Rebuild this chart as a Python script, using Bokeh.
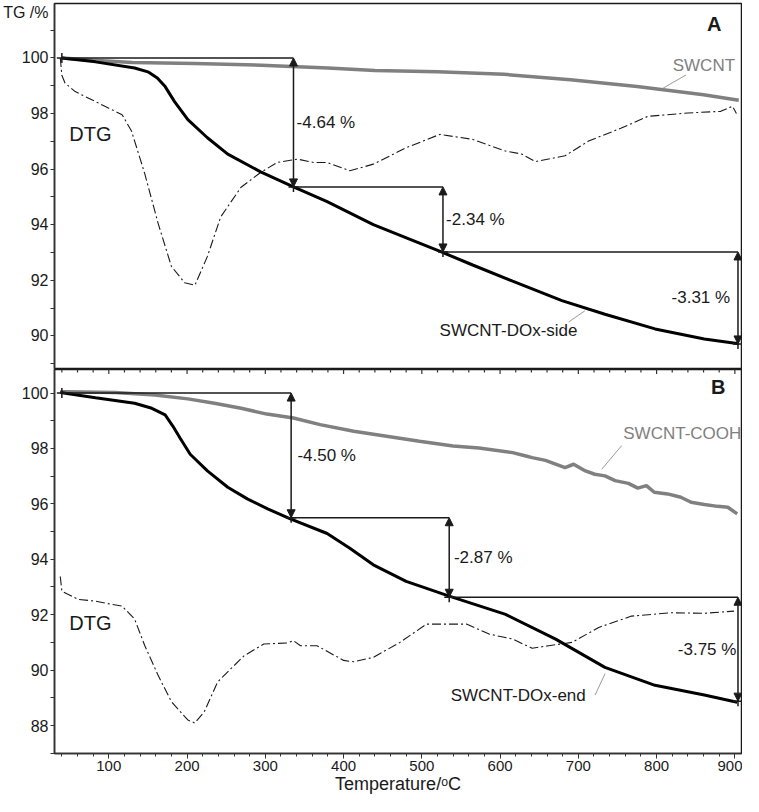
from bokeh.plotting import figure
from bokeh.layouts import column
from bokeh.models import (Range1d, SingleIntervalTicker, FixedTicker, Arrow,
                          NormalHead, Label, ColumnDataSource)
from bokeh.embed import file_html
from bokeh.resources import INLINE
import math

# ---------------- data ----------------
# Panel A
swcnt_T = [40, 80, 130, 210, 295, 380, 440, 520, 605, 690, 775, 860, 905]
swcnt_TG = [100.0, 99.92, 99.84, 99.80, 99.74, 99.64, 99.55, 99.50, 99.41, 99.22, 98.97, 98.68, 98.48]

side_T = [40, 83, 133, 150, 162, 172, 184, 201, 226, 252, 294, 336, 379, 438, 489, 525, 565,
          616, 679, 734, 798, 861, 905]
side_TG = [100.0, 99.86, 99.64, 99.5, 99.28, 98.97, 98.43, 97.78, 97.13, 96.54, 95.9, 95.36,
           94.83, 94.0, 93.43, 93.02, 92.55, 91.97, 91.27, 90.78, 90.25, 89.89, 89.72]

dtgA_T = [38, 40, 44, 57, 83, 95, 117, 129, 146, 163, 180, 197, 210, 226, 243, 269, 294, 315, 341,
          362, 379, 408, 438, 480, 523, 565, 607, 628, 645, 683, 713, 755, 789, 840, 882, 897, 902]
dtgA = [100.0, 99.38, 99.1, 98.79, 98.43, 98.26, 97.96, 97.37, 95.83, 94.05, 92.5, 91.91, 91.82,
        92.86, 94.28, 95.35, 95.88, 96.24, 96.36, 96.24, 96.24, 95.94, 96.18, 96.77, 97.25, 97.07,
        96.65, 96.54, 96.27, 96.48, 97.01, 97.48, 97.9, 98.02, 98.08, 98.26, 98.0]

stepA_T = [40, 336, 527, 904]
stepA_TG = [100.0, 95.36, 93.02, 89.71]
stepA_txt = ["-4.64 %", "-2.34 %", "-3.31 %"]

# Panel B
cooh_T = [38, 44.5, 108, 159, 201, 235, 269, 302, 336, 370, 413, 455, 497, 540, 573, 616, 633, 641,
          658, 683, 694, 709, 721, 734, 747, 764, 776, 787, 797, 814, 831, 844, 861, 878, 891, 903]
cooh_TG = [100.05, 100.05, 100.02, 99.93, 99.79, 99.63, 99.45, 99.24, 99.1, 98.86, 98.62, 98.44,
           98.26, 98.09, 98.02, 97.85, 97.73, 97.67, 97.57, 97.31, 97.43, 97.19, 97.07, 97.01,
           96.84, 96.74, 96.57, 96.66, 96.42, 96.36, 96.24, 96.06, 95.98, 95.91, 95.88, 95.64]

end_T = [38, 83, 133, 155, 172, 182, 191, 204, 226, 252, 277, 303, 332, 379, 408, 438, 480, 535,
         607, 671, 734, 798, 861, 903]
end_TG = [100.02, 99.83, 99.63, 99.45, 99.21, 98.8, 98.38, 97.79, 97.19, 96.6, 96.18, 95.82,
          95.46, 94.93, 94.4, 93.8, 93.2, 92.67, 92.01, 91.12, 90.1, 89.45, 89.1, 88.84]

dtgB_T = [38, 40, 61, 83, 104, 117, 133, 146, 163, 180, 201, 210, 222, 239, 256, 273, 298, 328,
          336, 345, 366, 400, 413, 438, 472, 506, 557, 586, 616, 641, 662, 692, 726, 768, 819,
          861, 899]
dtgB = [93.38, 92.85, 92.55, 92.49, 92.37, 92.31, 91.84, 90.88, 89.81, 88.86, 88.2, 88.09, 88.5,
        89.57, 90.05, 90.52, 90.94, 90.98, 91.06, 90.88, 90.88, 90.35, 90.3, 90.46, 91.0, 91.66,
        91.66, 91.3, 91.12, 90.79, 90.88, 91.0, 91.54, 91.95, 92.07, 92.05, 92.13]

stepB_T = [40, 333, 535, 904]
stepB_TG = [100.0, 95.50, 92.63, 88.88]
stepB_txt = ["-4.50 %", "-2.87 %", "-3.75 %"]

x_tick_labels = [100, 200, 300, 400, 500, 600, 700, 800, 900]
yA_tick_labels = [90, 92, 94, 96, 98, 100]
yB_tick_labels = [88, 90, 92, 94, 96, 98, 100]
y_title = "TG /%"
x_title = "Temperature/ᵒC"

# ---------------- styling ----------------
FONT = "Liberation Sans"
GRAY = "#808080"
INK = "#1a1a1a"
AX = "#333333"

xr = Range1d(30.6, 908.5)


def style_y(p, ticks, lo, hi, title_at=None):
    ax = p.yaxis[0]
    major = list(ticks) + ([title_at] if title_at is not None else [])
    ax.ticker = FixedTicker(ticks=major, minor_ticks=list(range(lo, hi + 1)))
    if title_at is not None:
        ax.major_label_overrides = {title_at: y_title}
    ax.major_label_text_font = FONT
    ax.major_label_text_font_size = "16px"
    ax.major_label_text_color = INK
    ax.axis_line_color = AX
    ax.axis_line_width = 1.5
    ax.major_tick_out = 0
    ax.major_tick_in = 0
    ax.minor_tick_line_color = AX
    ax.minor_tick_line_width = 1.2
    ax.minor_tick_out = 4
    ax.minor_tick_in = 0
    ax.major_label_standoff = 2


def base(p):
    p.grid.visible = False
    p.outline_line_color = INK
    p.outline_line_width = 1.5
    p.background_fill_color = "white"
    p.border_fill_color = "white"


def steps(p, T, L, txt, offsets):
    p.segment(x0=T[:-1], y0=L[:-1], x1=T[1:], y1=L[:-1], line_color=INK, line_width=1.5)
    src = ColumnDataSource(dict(xs=T[1:], ys=L[:-1], xe=T[1:], ye=L[1:]))
    p.add_layout(Arrow(source=src, x_start="xs", y_start="ys", x_end="xe", y_end="ye",
                       line_color=INK, line_width=1.5,
                       start=NormalHead(size=8, fill_color=INK, line_color=INK, line_width=1),
                       end=NormalHead(size=8, fill_color=INK, line_color=INK, line_width=1)))
    p.scatter(T, L, marker="cross", size=10, line_color=INK, line_width=1.5)
    for i, t in enumerate(txt):
        dx, align = offsets[i]
        p.add_layout(Label(x=T[i + 1] + dx, y=(L[i] + L[i + 1]) / 2, text=t,
                           text_font=FONT, text_font_size="17px", text_color=INK,
                           text_align=align, text_baseline="middle"))


# ---------------- panel A ----------------
pA = figure(width=742, height=369, x_range=xr, y_range=Range1d(88.79, 101.96),
            output_backend="svg", toolbar_location=None, x_axis_location=None,
            min_border_left=51, min_border_right=1, min_border_top=3, min_border_bottom=0)
base(pA)
style_y(pA, yA_tick_labels, 89, 101, title_at=101.62)

pA.line(dtgA_T, dtgA, line_color=INK, line_width=1.1, line_dash="9 3 2 3")
pA.line(swcnt_T, swcnt_TG, line_color=GRAY, line_width=3.5)
pA.line(side_T, side_TG, line_color="black", line_width=3)
steps(pA, stepA_T, stepA_TG, stepA_txt, [(4, "left"), (4, "left"), (-10, "right")])

pA.segment(x0=[837.7, 687.6], y0=[99.39, 90.5], x1=[808.1, 708.3], y1=[98.91, 90.9],
           line_color="#9a9a9a", line_width=1)
pA.add_layout(Label(x=820.6, y=99.74, text="SWCNT", text_font=FONT, text_font_size="17px",
                    text_color=GRAY, text_baseline="middle"))
pA.add_layout(Label(x=522.7, y=90.19, text="SWCNT-DOx-side", text_font=FONT,
                    text_font_size="17px", text_color=INK, text_baseline="middle"))
pA.add_layout(Label(x=49.6, y=97.25, text="DTG", text_font=FONT, text_font_size="20px",
                    text_color=INK, text_baseline="middle"))
pA.add_layout(Label(x=883, y=101.22, text="A", text_font=FONT, text_font_size="20px",
                    text_font_style="bold", text_color=INK, text_align="right",
                    text_baseline="middle"))

# ---------------- panel B ----------------
pB = figure(width=742, height=427, x_range=xr, y_range=Range1d(86.99, 100.85),
            output_backend="svg", toolbar_location=None,
            min_border_left=51, min_border_right=1, min_border_top=0, min_border_bottom=0)
base(pB)
style_y(pB, yB_tick_labels, 87, 100)

bx = pB.xaxis[0]
bx.ticker = SingleIntervalTicker(interval=x_tick_labels[1] - x_tick_labels[0], num_minor_ticks=5)
bx.major_label_text_font = FONT
bx.major_label_text_font_size = "15px"
bx.major_label_text_color = INK
bx.axis_line_color = AX
bx.axis_line_width = 1.5
bx.major_tick_line_color = AX
bx.minor_tick_line_color = AX
bx.major_tick_out = 5
bx.major_tick_in = 0
bx.minor_tick_out = 3
bx.minor_tick_in = 0
bx.major_label_standoff = 2
bx.axis_label = x_title
bx.axis_label_text_font = FONT
bx.axis_label_text_font_size = "18px"
bx.axis_label_text_font_style = "normal"
bx.axis_label_text_color = INK
bx.axis_label_standoff = 0

# inward ticks along the top edge of panel B (shared border with panel A)
minor_x = [t for t in range(40, 901, 20) if t % 100]
top_y = pB.y_range.end
pB.scatter(minor_x, [top_y] * len(minor_x),
           marker="dash", angle=math.pi / 2, size=6, line_color=AX, line_width=1.2)
pB.scatter(x_tick_labels, [top_y] * len(x_tick_labels),
           marker="dash", angle=math.pi / 2, size=9, line_color=AX, line_width=1.2)

pB.line(dtgB_T, dtgB, line_color=INK, line_width=1.1, line_dash="9 3 2 3")
pB.line(cooh_T, cooh_TG, line_color=GRAY, line_width=3.5)
pB.line(end_T, end_TG, line_color="black", line_width=3)
steps(pB, stepB_T, stepB_TG, stepB_txt, [(8, "left"), (6, "left"), (-2, "right")])

pB.segment(x0=[755.3, 721.4], y0=[98.1, 89.1], x1=[729.9, 734.1], y1=[97.25, 89.87],
           line_color="#9a9a9a", line_width=1)
pB.add_layout(Label(x=757.4, y=98.53, text="SWCNT-COOH", text_font=FONT, text_font_size="17px",
                    text_color=GRAY, text_baseline="middle"))
pB.add_layout(Label(x=536.9, y=89.1, text="SWCNT-DOx-end", text_font=FONT,
                    text_font_size="17px", text_color=INK, text_baseline="middle"))
pB.add_layout(Label(x=49.6, y=91.71, text="DTG", text_font=FONT, text_font_size="20px",
                    text_color=INK, text_baseline="middle"))
pB.add_layout(Label(x=888, y=100.23, text="B", text_font=FONT, text_font_size="20px",
                    text_font_style="bold", text_color=INK, text_align="right",
                    text_baseline="middle"))

layout = column(pA, pB, spacing=0)
open("out.html", "w").write(file_html(layout, INLINE))
